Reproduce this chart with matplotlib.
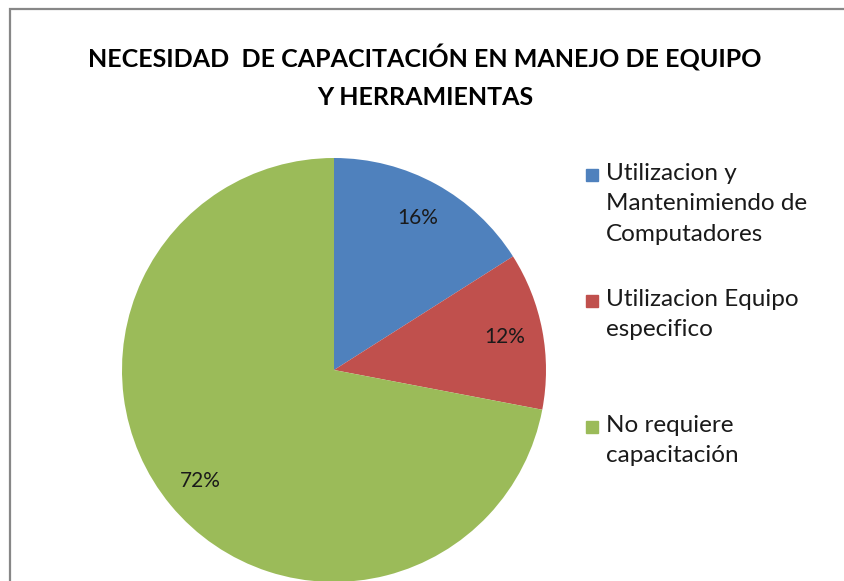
import matplotlib.pyplot as plt
from matplotlib.patches import Rectangle

# data
categories = ["Utilizacion y\nMantenimiendo de\nComputadores",
              "Utilizacion Equipo\nespecifico",
              "No requiere\ncapacitación"]
values = [16, 12, 72]
colors = ["#4F81BD", "#C0504D", "#9BBB59"]
title = "NECESIDAD  DE CAPACITACIÓN EN MANEJO DE EQUIPO\nY HERRAMIENTAS"

W, H = 845, 581
plt.rcParams['font.family'] = ['Lato', 'DejaVu Sans']
fig = plt.figure(figsize=(W / 100, H / 100), dpi=100)

# chart border (cut off on right and bottom like the screenshot)
fig.patches.append(Rectangle((10 / W, -0.1), 1.2, (H - 9) / H + 0.1,
                             transform=fig.transFigure, fill=False,
                             edgecolor="#878787", linewidth=1.6))

# pie placed in pixel box: center (334, 370), radius 212
cx, cy, r = 334, 370, 212
ax = fig.add_axes([(cx - r) / W, (H - cy - r) / H, 2 * r / W, 2 * r / H])
wedges, texts, autotexts = ax.pie(values, colors=colors, startangle=90, counterclock=False,
                                  autopct='%1.0f%%', pctdistance=0.82,
                                  wedgeprops=dict(linewidth=0),
                                  textprops=dict(fontsize=15, color="#1a1a1a"))
ax.set_xlim(-1, 1)
ax.set_ylim(-1, 1)
ax.set_aspect('auto')
ax.axis('off')

fig.text(425 / W, 1 - 77 / H, title, ha='center', va='center', fontsize=18,
         fontweight='bold', linespacing=1.75)

# legend, Excel style spacing
leg_y = [174, 300, 426]
for lab, col, y in zip(categories, colors, leg_y):
    fig.patches.append(Rectangle((586 / W, 1 - (y + 7) / H), 12 / W, 12 / H,
                                 transform=fig.transFigure, color=col))
    fig.text(606 / W, 1 - (y - 11) / H, lab, ha='left', va='top', fontsize=17.5,
             color="#1a1a1a", linespacing=1.55)

fig.savefig("out.png", dpi=100)
